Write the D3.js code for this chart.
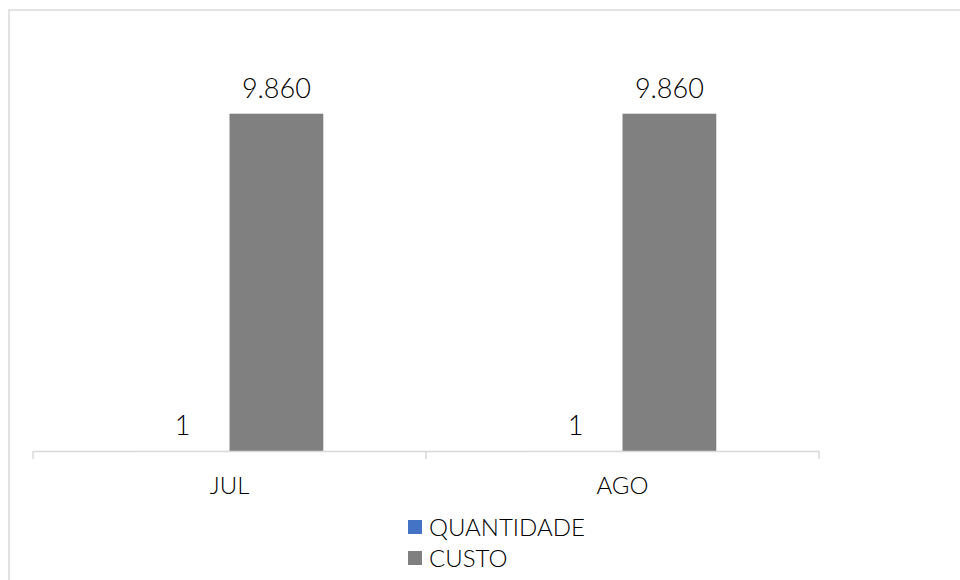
<!DOCTYPE html>
<html>
<head>
<meta charset="utf-8">
<script src="https://cdn.jsdelivr.net/npm/d3@7"></script>
<style>
  body { margin: 0; background: #fff; }
  text { font-family: "Lato Light", "Lato", "Open Sans", sans-serif; font-weight: 300; fill: #000; }
</style>
</head>
<body>
<div id="chart"></div>
<script>
// chart data
const months = ["JUL", "AGO"];
const seriesNames = ["QUANTIDADE", "CUSTO"];
const quantidade = [1, 1];
const custo = [9860, 9860];
const colors = ["#4472C4", "#808080"];

const width = 960, height = 580;
const fmt = d3.formatLocale({ decimal: ",", thousands: ".", grouping: [3], currency: ["R$", ""] }).format(",d");

const svg = d3.select("#chart").append("svg")
    .attr("width", width)
    .attr("height", height);

// chart border
svg.append("rect")
    .attr("x", 9).attr("y", 10)
    .attr("width", 1000).attr("height", 620)
    .attr("fill", "none")
    .attr("stroke", "#d9d9d9")
    .attr("stroke-width", 1.5);

const x0 = d3.scaleBand()
    .domain(months)
    .range([33, 819]);

const x1 = d3.scaleBand()
    .domain(seriesNames)
    .range([0, x0.bandwidth()])
    .paddingOuter(1.095);

const y = d3.scaleLinear()
    .domain([0, 12000])
    .range([451, 40.5]);

const rows = months.map((m, i) => ({ month: m, values: [quantidade[i], custo[i]] }));

const groups = svg.selectAll(".grp")
    .data(rows)
    .join("g")
    .attr("class", "grp")
    .attr("transform", d => `translate(${x0(d.month)},0)`);

groups.selectAll("rect")
    .data(d => d.values.map((v, j) => ({ key: seriesNames[j], value: v, color: colors[j] })))
    .join("rect")
    .attr("x", d => x1(d.key))
    .attr("width", x1.bandwidth())
    .attr("y", d => y(d.value))
    .attr("height", d => y(0) - y(d.value))
    .attr("fill", d => d.color);

groups.selectAll(".lbl")
    .data(d => d.values.map((v, j) => ({ key: seriesNames[j], value: v })))
    .join("text")
    .attr("class", "lbl")
    .attr("x", d => x1(d.key) + x1.bandwidth() / 2)
    .attr("y", d => y(d.value) - 16)
    .attr("text-anchor", "middle")
    .style("font-size", "27px")
    .text(d => fmt(d.value));

// category axis
const axis = svg.append("g")
    .attr("transform", `translate(0,${y(0)})`)
    .call(d3.axisBottom(x0).tickSize(0).tickPadding(26));
axis.select(".domain").attr("stroke", "#d9d9d9").attr("stroke-width", 1.5);
axis.selectAll("text").style("font-size", "24px").style("font-family", null).attr("fill", "#000");

// boundary tick marks between categories
const bounds = [x0.range()[0]].concat(months.map(m => x0(m) + x0.bandwidth()));
svg.selectAll(".btick")
    .data(bounds)
    .join("line")
    .attr("class", "btick")
    .attr("x1", d => d).attr("x2", d => d)
    .attr("y1", y(0)).attr("y2", y(0) + 8)
    .attr("stroke", "#d9d9d9")
    .attr("stroke-width", 1.5);

// legend
const legend = svg.selectAll(".leg")
    .data(seriesNames)
    .join("g")
    .attr("class", "leg")
    .attr("transform", (d, i) => `translate(408,${520 + i * 31})`);

legend.append("rect")
    .attr("width", 14).attr("height", 14)
    .attr("fill", (d, i) => colors[i]);

legend.append("text")
    .attr("x", 21).attr("y", 16)
    .style("font-size", "24px")
    .text(d => d);
</script>
</body>
</html>
